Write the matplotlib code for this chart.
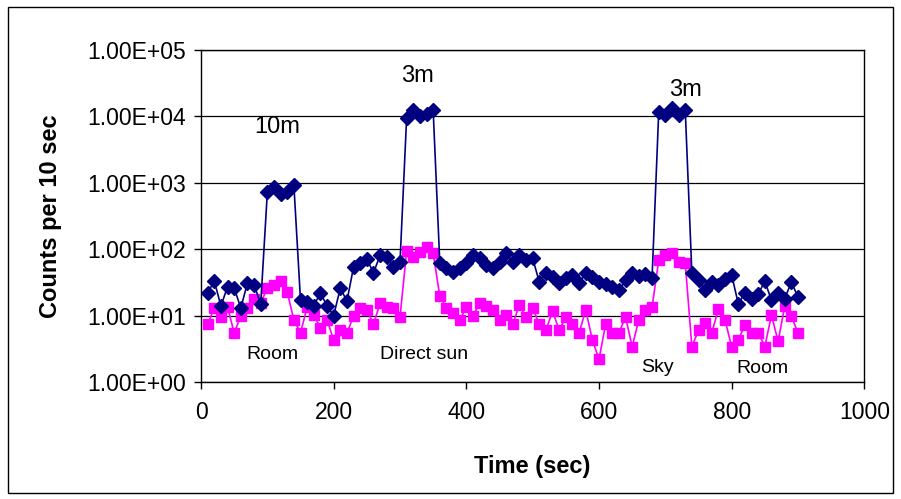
import matplotlib
matplotlib.use("Agg")
import matplotlib.pyplot as plt
from matplotlib.patches import Rectangle

plt.rcParams['font.family'] = ['Liberation Sans', 'DejaVu Sans']

# sample times (sec)
time = [10, 20, 30, 40, 50, 60, 70, 80, 90, 100,
        110, 120, 130, 140, 150, 160, 170, 180, 190, 200,
        210, 220, 230, 240, 250, 260, 270, 280, 290, 300,
        310, 320, 330, 340, 350, 360, 370, 380, 390, 400,
        410, 420, 430, 440, 450, 460, 470, 480, 490, 500,
        510, 520, 530, 540, 550, 560, 570, 580, 590, 600,
        610, 620, 630, 640, 650, 660, 670, 680, 690, 700,
        710, 720, 730, 740, 750, 760, 770, 780, 790, 800,
        810, 820, 830, 840, 850, 860, 870, 880, 890, 900]

# navy diamonds
counts_a = [22, 33, 14, 27, 26, 13, 31, 29, 15, 720,
            850, 670, 720, 920, 17, 16, 14, 22, 14, 10,
            26, 16.5, 54, 62, 71, 44, 81, 76, 54, 64,
            9600, 12300, 10300, 10700, 12300, 62, 52, 45, 52, 62,
            81, 73, 57, 52, 64, 87, 64, 81, 68, 73,
            32, 44, 38, 31, 37, 41, 31, 44, 38, 32,
            30, 27, 24, 34, 44, 39, 42, 37, 11500, 10350,
            13200, 10350, 12700, 44, 34, 24, 32, 29, 35, 41,
            15, 22, 18, 21, 33, 17, 22, 18, 32, 19]

# magenta squares
counts_b = [7.4, 13, 9.5, 13.4, 5.5, 9.8, 13, 17.7, 15.4, 26,
            29, 33, 22.6, 8.6, 5.5, 13.4, 10.2, 6.5, 8.6, 4.3,
            6, 5.5, 9.8, 13, 12.1, 7.4, 15.4, 13.4, 13, 9.5,
            93, 75, 90, 107, 87, 19.6, 13, 10.9, 8.6, 13.4,
            9.8, 15.4, 13.9, 12.1, 8.6, 10.2, 7.4, 14.4, 9.5, 13,
            7.4, 6, 11.7, 6, 9.5, 7.4, 5.5, 12.1, 4.3, 2.2,
            7.4, 5.5, 5.5, 9.5, 3.4, 8.6, 12.1, 13.4, 68, 81,
            87, 64, 62, 3.4, 6, 7.7, 5.5, 12.5, 8.6, 3.4,
            4.3, 7.2, 5.5, 5.5, 3.4, 10.2, 4.1, 13.9, 9.8, 5.5]

y_ticks = [1, 10, 100, 1000, 10000, 100000]
y_labels = ['1.00E+00', '1.00E+01', '1.00E+02', '1.00E+03', '1.00E+04', '1.00E+05']

fig = plt.figure(figsize=(9.01, 4.99), dpi=100)
ax = fig.add_axes([0.2231, 0.2345, 0.7362, 0.6653])

ax.plot(time, counts_a, color='#000080', lw=1.2, marker='D', ms=7.5, zorder=3)
ax.plot(time, counts_b, color='#FF00FF', lw=1.2, marker='s', ms=6.5, zorder=2)

ax.set_yscale('log')
ax.set_ylim(1, 100000)
ax.set_xlim(0, 1000)
ax.set_yticks(y_ticks)
ax.set_yticklabels(y_labels)
ax.minorticks_off()
ax.set_xticks([0, 200, 400, 600, 800, 1000])
ax.tick_params(labelsize=16.5, direction='out', length=5, width=1, color='black')
ax.tick_params(axis='x', pad=9)
ax.tick_params(axis='y', pad=6)
ax.grid(axis='y', color='black', lw=0.9)
ax.set_axisbelow(True)
for s in ax.spines.values():
    s.set_linewidth(1)
    s.set_color('black')

ax.set_xlabel('Time (sec)', fontsize=17, fontweight='bold', labelpad=22)
ax.set_ylabel('Counts per 10 sec', fontsize=17, fontweight='bold', labelpad=18)

ax.text(115, 7000, '10m', fontsize=17, ha='center', va='center')
ax.text(326, 40000, '3m', fontsize=17, ha='center', va='center')
ax.text(730, 25000, '3m', fontsize=17, ha='center', va='center')
ax.text(107, 2.55, 'Room', fontsize=14, ha='center', va='center')
ax.text(337, 2.55, 'Direct sun', fontsize=14, ha='center', va='center')
ax.text(688, 1.68, 'Sky', fontsize=14, ha='center', va='center')
ax.text(846, 1.62, 'Room', fontsize=14, ha='center', va='center')

fig.patches.append(Rectangle((8 / 901, 6 / 499), 885 / 901, 486 / 499,
                             transform=fig.transFigure, fill=False,
                             edgecolor='black', lw=1))

fig.savefig('out.png', dpi=100)
